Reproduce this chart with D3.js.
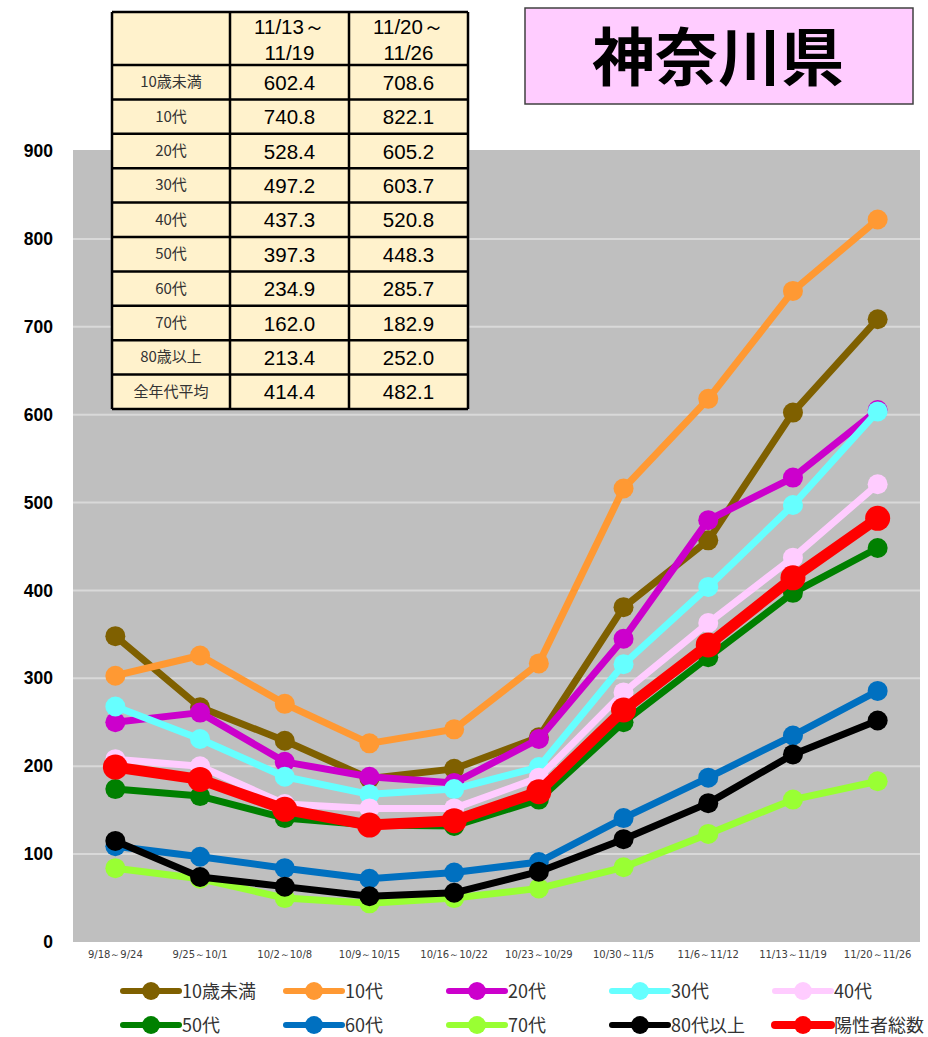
<!DOCTYPE html>
<html>
<head>
<meta charset="utf-8">
<title>神奈川県</title>
<script src="https://cdn.jsdelivr.net/npm/d3@7"></script>
<style>
  body { margin: 0; background: #fff; }
  svg { display: block; }
  .jp { font-family: "Noto Sans CJK JP", "Noto Sans", sans-serif; }
  .num { font-family: "Liberation Sans", Arial, sans-serif; }
</style>
</head>
<body>
<svg id="chart" width="928" height="1037"></svg>
<script>
// weeks on the x axis
const weeks = ["9/18～9/24", "9/25～10/1", "10/2～10/8", "10/9～10/15", "10/16～10/22",
  "10/23～10/29", "10/30～11/5", "11/6～11/12", "11/13～11/19", "11/20～11/26"];

const seriesNames = ["10歳未満", "10代", "20代", "30代", "40代", "50代", "60代", "70代", "80代以上", "陽性者総数"];
const seriesColors = ["#7f6000", "#ff9933", "#cc00cc", "#66ffff", "#ffccff", "#008000", "#0070c0", "#99ff33", "#000000", "#ff0000"];

const under10 = [348, 267, 229, 186, 197, 233, 381, 457, 602.4, 708.6];
const teens = [303, 326, 271, 226, 242, 317, 516, 618, 740.8, 822.1];
const twenties = [250, 261, 205, 188, 181, 231, 345, 480, 528.4, 605.2];
const thirties = [268, 231, 188, 168, 174, 199, 316, 404, 497.2, 603.7];
const forties = [208, 200, 157, 152, 152, 187, 284, 363, 437.3, 520.8];
const fifties = [174, 166, 141, 133, 132, 162, 250, 324, 397.3, 448.3];
const sixties = [109, 97, 84, 72, 79, 91, 141, 187, 234.9, 285.7];
const seventies = [84, 72, 50, 44, 50, 61, 85, 123, 162.0, 182.9];
const over80 = [115, 74, 63, 52, 56, 80, 117, 158, 213.4, 252.0];
const total = [199, 185, 151, 133, 138, 171, 264, 338, 414.4, 482.1];
const seriesValues = [under10, teens, twenties, thirties, forties, fifties, sixties, seventies, over80, total];

const yTicks = [0, 100, 200, 300, 400, 500, 600, 700, 800, 900];

// table in the top left
const tableHead = ["", "11/13～\n11/19", "11/20～\n11/26"];
const tableLabels = ["10歳未満", "10代", "20代", "30代", "40代", "50代", "60代", "70代", "80歳以上", "全年代平均"];
const tableWeek1 = ["602.4", "740.8", "528.4", "497.2", "437.3", "397.3", "234.9", "162.0", "213.4", "414.4"];
const tableWeek2 = ["708.6", "822.1", "605.2", "603.7", "520.8", "448.3", "285.7", "182.9", "252.0", "482.1"];

const titleText = "神奈川県";

const svg = d3.select("#chart");

const plot = { left: 73, right: 920, top: 150, bottom: 942 };

const x = d3.scaleBand().domain(weeks).range([plot.left, plot.right]);
const y = d3.scaleLinear().domain([0, 900]).range([plot.bottom, 151]);

// background
svg.append("rect")
  .attr("x", plot.left).attr("y", plot.top)
  .attr("width", plot.right - plot.left).attr("height", plot.bottom - plot.top)
  .attr("fill", "#bfbfbf");

// gridlines
svg.append("g")
  .selectAll("line")
  .data(yTicks.filter(d => d > 0 && d < 900))
  .join("line")
    .attr("x1", plot.left).attr("x2", plot.right)
    .attr("y1", d => y(d)).attr("y2", d => y(d))
    .attr("stroke", "#d9d9d9").attr("stroke-width", 2);

// y axis
const yAxis = d3.axisLeft(y).tickValues(yTicks).tickSize(0).tickPadding(0);
const gy = svg.append("g")
  .attr("transform", "translate(53,0)")
  .call(yAxis);
gy.select(".domain").remove();
gy.selectAll("text")
  .attr("class", "num")
  .attr("font-size", 17.5)
  .attr("font-weight", "bold")
  .attr("fill", "#000");

// x axis
const xAxis = d3.axisBottom(x).tickSize(0).tickPadding(0);
const gx = svg.append("g")
  .attr("transform", `translate(0,${plot.bottom + 9})`)
  .call(xAxis);
gx.select(".domain").remove();
gx.selectAll("text")
  .attr("font-family", "'DejaVu Sans', sans-serif")
  .attr("font-size", 10)
  .attr("fill", "#404040");

// lines
const cx = d => x(d) + x.bandwidth() / 2;
const line = d3.line()
  .x((d, i) => cx(weeks[i]))
  .y(d => y(d));

seriesValues.forEach((vals, k) => {
  const isTotal = k === seriesValues.length - 1;
  const g = svg.append("g");
  g.append("path")
    .datum(vals)
    .attr("d", line)
    .attr("fill", "none")
    .attr("stroke", seriesColors[k])
    .attr("stroke-width", isTotal ? 11 : 7)
    .attr("stroke-linejoin", "round");
  g.selectAll("circle")
    .data(vals)
    .join("circle")
      .attr("cx", (d, i) => cx(weeks[i]))
      .attr("cy", d => y(d))
      .attr("r", isTotal ? 12.5 : 10)
      .attr("fill", seriesColors[k]);
});

// legend
const legend = svg.append("g");
seriesNames.forEach((name, k) => {
  const col = k % 5, row = Math.floor(k / 5);
  const lx = 123 + col * 163, ly = 991 + row * 34;
  const isTotal = k === seriesNames.length - 1;
  const item = legend.append("g").attr("transform", `translate(${lx},${ly})`);
  item.append("line")
    .attr("x1", 0).attr("x2", 56).attr("y1", 0).attr("y2", 0)
    .attr("stroke", seriesColors[k]).attr("stroke-width", isTotal ? 8 : 6)
    .attr("stroke-linecap", "round");
  item.append("circle").attr("cx", 28).attr("r", 9).attr("fill", seriesColors[k]);
  item.append("text")
    .attr("class", "jp")
    .attr("x", 59).attr("y", 7)
    .attr("font-size", 18)
    .attr("fill", "#333")
    .text(name);
});

// table
const tbl = { left: 112, top: 12, colW: [118, 119, 119], headH: 53, rowH: 34.4 };
const colX = [tbl.left, tbl.left + tbl.colW[0], tbl.left + tbl.colW[0] + tbl.colW[1]];
const tableW = d3.sum(tbl.colW);
const tableH = tbl.headH + tbl.rowH * tableLabels.length;
const tg = svg.append("g");
tg.append("rect")
  .attr("x", tbl.left).attr("y", tbl.top)
  .attr("width", tableW).attr("height", tableH)
  .attr("fill", "#fff2cc");

// header
tableHead.forEach((h, c) => {
  const lines = h.split("\n");
  tg.append("text")
    .attr("class", "num")
    .attr("x", colX[c] + tbl.colW[c] / 2)
    .attr("y", tbl.top + 22)
    .attr("text-anchor", "middle")
    .attr("font-size", 20.5)
    .attr("fill", "#000")
    .selectAll("tspan")
    .data(lines)
    .join("tspan")
      .attr("x", colX[c] + tbl.colW[c] / 2)
      .attr("dy", (d, i) => i === 0 ? 0 : 26)
      .text(d => d);
});

tableLabels.forEach((lab, r) => {
  const ry = tbl.top + tbl.headH + r * tbl.rowH + tbl.rowH / 2;
  tg.append("text")
    .attr("class", "jp")
    .attr("x", colX[0] + tbl.colW[0] / 2).attr("y", ry + 5)
    .attr("text-anchor", "middle")
    .attr("font-size", 15)
    .attr("fill", "#333")
    .text(lab);
  [tableWeek1[r], tableWeek2[r]].forEach((v, c) => {
    tg.append("text")
      .attr("class", "num")
      .attr("x", colX[c + 1] + tbl.colW[c + 1] / 2).attr("y", ry + 7.5)
      .attr("text-anchor", "middle")
      .attr("font-size", 20.5)
      .attr("fill", "#000")
      .text(v);
  });
});

// grid of table
const hLines = [tbl.top, tbl.top + tbl.headH].concat(tableLabels.map((d, r) => tbl.top + tbl.headH + (r + 1) * tbl.rowH));
tg.selectAll("line.h")
  .data(hLines)
  .join("line")
    .attr("class", "h")
    .attr("x1", tbl.left).attr("x2", tbl.left + tableW)
    .attr("y1", d => d).attr("y2", d => d)
    .attr("stroke", "#000").attr("stroke-width", 2.5);
tg.selectAll("line.v")
  .data(colX.concat([tbl.left + tableW]))
  .join("line")
    .attr("class", "v")
    .attr("x1", d => d).attr("x2", d => d)
    .attr("y1", tbl.top).attr("y2", tbl.top + tableH)
    .attr("stroke", "#000").attr("stroke-width", 2.5);

// title box
svg.append("rect")
  .attr("x", 525).attr("y", 8).attr("width", 388).attr("height", 96)
  .attr("fill", "#ffccff").attr("stroke", "#404040").attr("stroke-width", 1.5);
svg.append("text")
  .attr("class", "jp")
  .attr("x", 718).attr("y", 80)
  .attr("text-anchor", "middle")
  .attr("font-size", 63)
  .attr("font-weight", "bold")
  .attr("fill", "#000")
  .text(titleText);
</script>
</body>
</html>
